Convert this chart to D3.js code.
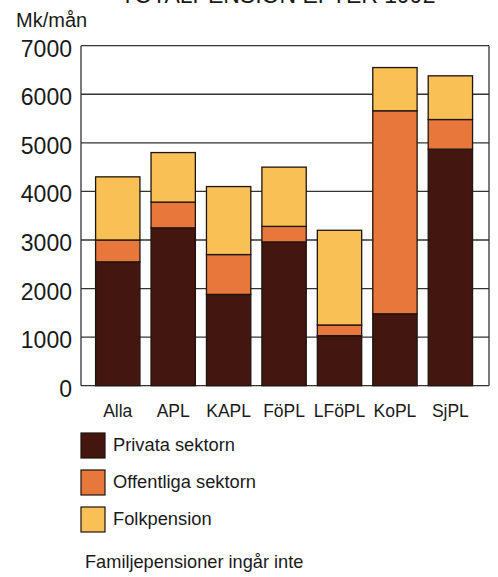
<!DOCTYPE html>
<html>
<head>
<meta charset="utf-8">
<script src="https://cdn.jsdelivr.net/npm/d3@7"></script>
<style>
  body { margin: 0; background: #fff; }
  text { font-family: "Liberation Sans", Arial, sans-serif; fill: #1a1a1a; }
</style>
</head>
<body>
<script>
// Data (Mk/mån)
var categories = ["Alla", "APL", "KAPL", "FöPL", "LFöPL", "KoPL", "SjPL"];
var privata    = [2550, 3250, 1880, 2960, 1030, 1480, 4870];
var offentliga = [450, 530, 820, 320, 220, 4180, 610];
var folk       = [1300, 1020, 1400, 1220, 1950, 890, 900];
var seriesNames  = ["Privata sektorn", "Offentliga sektorn", "Folkpension"];
var seriesColors = ["#43160f", "#e8773c", "#f9c055"];
var yTicks = [0, 1000, 2000, 3000, 4000, 5000, 6000, 7000];

var width = 498, height = 577;
var plotLeft = 81, plotRight = 489, plotTop = 45.7, plotBottom = 385.7;

var svg = d3.select("body").append("svg")
  .attr("width", width)
  .attr("height", height);

// title sits mostly above the page edge, like the scan
svg.append("text")
  .attr("x", 278).attr("y", 2.5)
  .attr("text-anchor", "middle")
  .attr("font-size", 23)
  .text("TOTALPENSION EFTER 1992");

svg.append("text")
  .attr("x", 16).attr("y", 27)
  .attr("font-size", 20)
  .text("Mk/mån");

var x = d3.scaleBand()
  .domain(categories)
  .range([plotLeft, plotRight])
  .paddingInner(0.2)
  .paddingOuter(0.28)
  .align(0.47);

var y = d3.scaleLinear()
  .domain([0, 7000])
  .range([plotBottom, plotTop]);

// gridlines
svg.append("g").selectAll("line")
  .data(yTicks)
  .enter().append("line")
  .attr("x1", plotLeft).attr("x2", plotRight)
  .attr("y1", function(d) { return y(d); })
  .attr("y2", function(d) { return y(d); })
  .attr("stroke", "#333")
  .attr("stroke-width", 1.3);

// frame sides
svg.append("line").attr("x1", plotLeft).attr("x2", plotLeft).attr("y1", plotTop).attr("y2", plotBottom)
  .attr("stroke", "#333").attr("stroke-width", 1.3);
svg.append("line").attr("x1", plotRight).attr("x2", plotRight).attr("y1", plotTop).attr("y2", plotBottom)
  .attr("stroke", "#333").attr("stroke-width", 1.3);

// y tick labels
svg.append("g").selectAll("text")
  .data(yTicks)
  .enter().append("text")
  .attr("x", 72)
  .attr("y", function(d) { return y(d) + 11; })
  .attr("text-anchor", "end")
  .attr("font-size", 23)
  .text(function(d) { return d; });

// stacked bars
var rows = categories.map(function(c, i) {
  return { cat: c, p: privata[i], o: offentliga[i], f: folk[i] };
});
var stack = d3.stack().keys(["p", "o", "f"]);
var layers = stack(rows);

svg.append("g").selectAll("g")
  .data(layers)
  .enter().append("g")
  .attr("fill", function(d, i) { return seriesColors[i]; })
  .selectAll("rect")
  .data(function(d) { return d; })
  .enter().append("rect")
  .attr("x", function(d) { return x(d.data.cat); })
  .attr("y", function(d) { return y(d[1]); })
  .attr("width", x.bandwidth())
  .attr("height", function(d) { return y(d[0]) - y(d[1]); })
  .attr("stroke", "#1e1410")
  .attr("stroke-width", 1.3);

// category labels
svg.append("g").selectAll("text")
  .data(categories)
  .enter().append("text")
  .attr("x", function(d) { return x(d) + x.bandwidth() / 2; })
  .attr("y", 417)
  .attr("text-anchor", "middle")
  .attr("font-size", 17.5)
  .text(function(d) { return d; });

// legend
var legend = svg.append("g").selectAll("g")
  .data(seriesNames)
  .enter().append("g")
  .attr("transform", function(d, i) { return "translate(81," + (433 + i * 37) + ")"; });

legend.append("rect")
  .attr("width", 24).attr("height", 25)
  .attr("fill", function(d, i) { return seriesColors[i]; })
  .attr("stroke", "#1e1410")
  .attr("stroke-width", 1.2);

legend.append("text")
  .attr("x", 32).attr("y", 18)
  .attr("font-size", 18.3)
  .text(function(d) { return d; });

svg.append("text")
  .attr("x", 85).attr("y", 568)
  .attr("font-size", 18.2)
  .text("Familjepensioner ingår inte");
</script>
</body>
</html>
